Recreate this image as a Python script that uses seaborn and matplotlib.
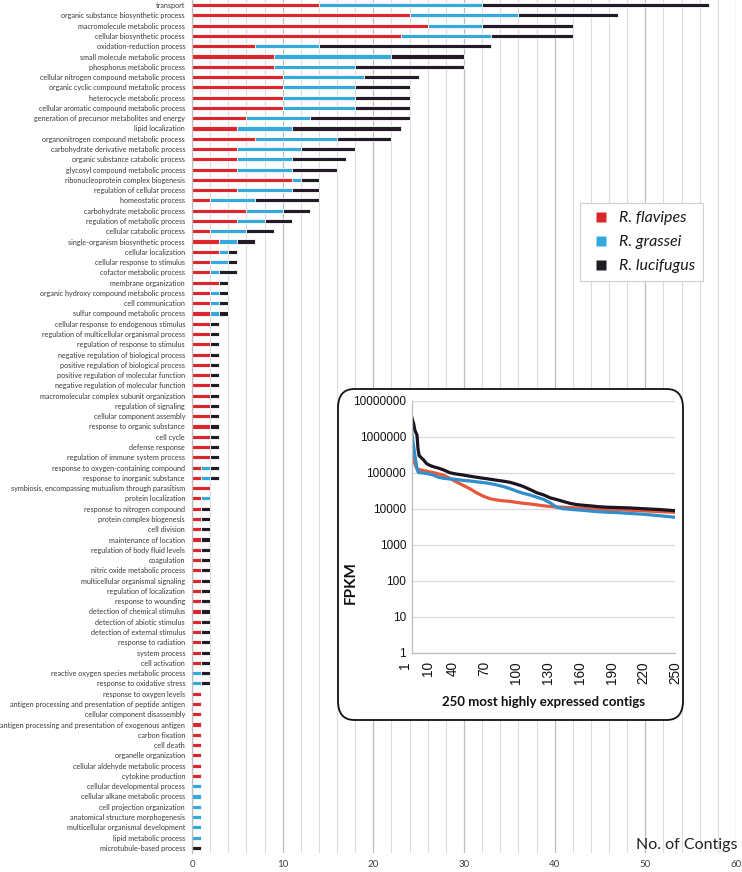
import numpy as np
import pandas as pd
import matplotlib
matplotlib.use("Agg")
import matplotlib.pyplot as plt
import seaborn as sns
from matplotlib.patches import FancyBboxPatch
from matplotlib.lines import Line2D
from matplotlib.ticker import MultipleLocator, FixedLocator, FuncFormatter, NullLocator

# ---------------- main bar chart data ----------------
categories = [
    "transport", "organic substance biosynthetic process", "macromolecule metabolic process",
    "cellular biosynthetic process", "oxidation-reduction process", "small molecule metabolic process",
    "phosphorus metabolic process", "cellular nitrogen compound metabolic process",
    "organic cyclic compound metabolic process", "heterocycle metabolic process",
    "cellular aromatic compound metabolic process", "generation of precursor metabolites and energy",
    "lipid localization", "organonitrogen compound metabolic process",
    "carbohydrate derivative metabolic process", "organic substance catabolic process",
    "glycosyl compound metabolic process", "ribonucleoprotein complex biogenesis",
    "regulation of cellular process", "homeostatic process", "carbohydrate metabolic process",
    "regulation of metabolic process", "cellular catabolic process",
    "single-organism biosynthetic process", "cellular localization", "cellular response to stimulus",
    "cofactor metabolic process", "membrane organization", "organic hydroxy compound metabolic process",
    "cell communication", "sulfur compound metabolic process",
    "cellular response to endogenous stimulus", "regulation of multicellular organismal process",
    "regulation of response to stimulus", "negative regulation of biological process",
    "positive regulation of biological process", "positive regulation of molecular function",
    "negative regulation of molecular function", "macromolecular complex subunit organization",
    "regulation of signaling", "cellular component assembly", "response to organic substance",
    "cell cycle", "defense response", "regulation of immune system process",
    "response to oxygen-containing compound", "response to inorganic substance",
    "symbiosis, encompassing mutualism through parasitism", "protein localization",
    "response to nitrogen compound", "protein complex biogenesis", "cell division",
    "maintenance of location", "regulation of body fluid levels", "coagulation",
    "nitric oxide metabolic process", "multicellular organismal signaling",
    "regulation of localization", "response to wounding", "detection of chemical stimulus",
    "detection of abiotic stimulus", "detection of external stimulus", "response to radiation",
    "system process", "cell activation", "reactive oxygen species metabolic process",
    "response to oxidative stress", "response to oxygen levels",
    "antigen processing and presentation of peptide antigen", "cellular component disassembly",
    "antigen processing and presentation of exogenous antigen", "carbon fixation", "cell death",
    "organelle organization", "cellular aldehyde metabolic process", "cytokine production",
    "cellular developmental process", "cellular alkane metabolic process",
    "cell projection organization", "anatomical structure morphogenesis",
    "multicellular organismal development", "lipid metabolic process", "microtubule-based process",
]

flavipes = [14, 24, 26, 23, 7, 9, 9, 10, 10, 10, 10, 6, 5, 7, 5, 5, 5, 11, 5, 2, 6, 5, 2, 3, 3, 2,
            2, 3, 2, 2, 2, 2, 2, 2, 2, 2, 2, 2, 2, 2, 2, 2, 2, 2, 2, 1, 1, 2, 1, 1, 1, 1, 1, 1, 1,
            1, 1, 1, 1, 1, 1, 1, 1, 1, 1, 0, 0, 1, 1, 1, 1, 1, 1, 1, 1, 1, 0, 0, 0, 0, 0, 0, 0]
grassei = [18, 12, 6, 10, 7, 13, 9, 9, 8, 8, 8, 7, 6, 9, 7, 6, 6, 1, 6, 5, 4, 3, 4, 2, 1, 2,
           1, 0, 1, 1, 1, 0, 0, 0, 0, 0, 0, 0, 0, 0, 0, 0, 0, 0, 0, 1, 1, 0, 1, 0, 0, 0, 0, 0, 0,
           0, 0, 0, 0, 0, 0, 0, 0, 0, 0, 1, 1, 0, 0, 0, 0, 0, 0, 0, 0, 0, 1, 1, 1, 1, 1, 1, 0]
lucifugus = [25, 11, 10, 9, 19, 8, 12, 6, 6, 6, 6, 11, 12, 6, 6, 6, 5, 2, 3, 7, 3, 3, 3, 2, 1, 1,
             2, 1, 1, 1, 1, 1, 1, 1, 1, 1, 1, 1, 1, 1, 1, 1, 1, 1, 1, 1, 1, 0, 0, 1, 1, 1, 1, 1, 1,
             1, 1, 1, 1, 1, 1, 1, 1, 1, 1, 1, 1, 0, 0, 0, 0, 0, 0, 0, 0, 0, 0, 0, 0, 0, 0, 0, 1]

species = ["R. flavipes", "R. grassei", "R. lucifugus"]
main_xticks = [0, 10, 20, 30, 40, 50, 60]

# ---------------- inset line chart data ----------------
ranks = [1, 2, 3, 4, 5, 6, 7, 8, 9, 12, 15, 18, 22, 26, 31, 37, 43, 50, 56, 62, 69, 75, 81, 88,
         94, 100, 106, 113, 119, 126, 132, 138, 144, 151, 157, 163, 170, 176, 185, 195, 207, 220,
         235, 250]
fpkm_flavipes = [4.3e5, 3.0e5, 2.2e5, 1.8e5, 1.5e5, 1.3e5, 1.25e5, 1.2e5, 1.2e5, 1.15e5, 1.1e5,
                 1.05e5, 1.0e5, 9.3e4, 8.5e4, 7.0e4, 5.6e4, 4.4e4, 3.6e4, 2.8e4, 2.2e4, 1.9e4,
                 1.75e4, 1.65e4, 1.6e4, 1.5e4, 1.42e4, 1.35e4, 1.28e4, 1.2e4, 1.15e4, 1.12e4,
                 1.1e4, 1.07e4, 1.05e4, 1.02e4, 1.0e4, 9.8e3, 9.5e3, 9.3e3, 9.1e3, 8.7e3, 8.3e3,
                 7.9e3]
fpkm_grassei = [1.4e6, 8.0e5, 5.0e5, 3.0e5, 2.0e5, 1.3e5, 1.05e5, 1.0e5, 1.0e5, 9.8e4, 9.5e4,
                9.1e4, 8.5e4, 7.5e4, 7.0e4, 6.7e4, 6.5e4, 6.1e4, 5.9e4, 5.6e4, 5.3e4, 5.0e4,
                4.6e4, 4.1e4, 3.6e4, 3.1e4, 2.7e4, 2.4e4, 2.1e4, 1.8e4, 1.45e4, 1.1e4, 1.0e4,
                9.6e3, 9.3e3, 9.0e3, 8.6e3, 8.3e3, 8.0e3, 7.8e3, 7.4e3, 7.0e3, 6.4e3, 5.8e3]
fpkm_lucifugus = [3.6e6, 2.8e6, 2.2e6, 1.5e6, 1.3e6, 1.1e6, 4.5e5, 3.0e5, 2.8e5, 2.3e5, 1.8e5,
                  1.6e5, 1.45e5, 1.35e5, 1.2e5, 1.0e5, 9.2e4, 8.6e4, 8.0e4, 7.5e4, 7.0e4, 6.6e4,
                  6.2e4, 5.8e4, 5.4e4, 4.8e4, 4.2e4, 3.4e4, 2.8e4, 2.4e4, 2.0e4, 1.8e4, 1.6e4,
                  1.4e4, 1.3e4, 1.25e4, 1.2e4, 1.15e4, 1.1e4, 1.08e4, 1.05e4, 1.0e4, 9.5e3, 8.8e3]
inset_xticks = [1, 10, 40, 70, 100, 130, 160, 190, 220, 250]
inset_yticks = [1, 10, 100, 1000, 10000, 100000, 1000000, 10000000]

# ---------------- styling ----------------
bar_colors = ["#d9272d", "#33a9e0", "#231c26"]
line_colors = ["#e8573c", "#2e8fcc", "#1c1420"]

sns.set_theme(style="white")
plt.rcParams["font.family"] = ["Lato", "DejaVu Sans"]

W, H = 742, 872
fig = plt.figure(figsize=(W / 100, H / 100), dpi=100)

ax = fig.add_axes([192 / W, 1 - 853 / H, (736 - 192) / W, 853 / H])

df = pd.DataFrame({"category": categories, "flavipes": flavipes,
                   "grassei": grassei, "lucifugus": lucifugus})
df["cum_red"] = df["flavipes"]
df["cum_blue"] = df["flavipes"] + df["grassei"]
df["cum_black"] = df["cum_blue"] + df["lucifugus"]

bw = 0.40
for col, c in [("cum_black", bar_colors[2]), ("cum_blue", bar_colors[1]), ("cum_red", bar_colors[0])]:
    sns.barplot(data=df, x=col, y="category", orient="h", color=c, saturation=1,
                width=bw, edgecolor="white", linewidth=0.6, errorbar=None, ax=ax)

ax.set_xlim(0, 60)
ax.set_xlabel("")
ax.set_ylabel("")
ax.xaxis.set_major_locator(FixedLocator(main_xticks))
ax.xaxis.set_minor_locator(MultipleLocator(2))
ax.grid(axis="x", which="major", color="#bdbdbd", lw=0.9)
ax.grid(axis="x", which="minor", color="#dcdcdc", lw=0.8)
ax.grid(axis="y", visible=False)
ax.set_axisbelow(True)
for s in ["top", "right", "bottom"]:
    ax.spines[s].set_visible(False)
ax.spines["left"].set_color("#bdbdbd")
ax.spines["left"].set_linewidth(0.9)
ax.tick_params(axis="both", which="both", length=0)
ax.tick_params(axis="y", labelsize=5.25, labelcolor="#3a3a3a", pad=5)
ax.tick_params(axis="x", labelsize=7, labelcolor="#404040", pad=5)

fig.text(737 / W, 1 - 845 / H, "No. of Contigs", ha="right", va="center",
         fontsize=11.5, color="#222222")

handles = [Line2D([], [], linestyle="none", marker="s", markersize=7.2,
                  markerfacecolor=c, markeredgecolor="none") for c in bar_colors]
leg = fig.legend(handles, species, loc="upper left", bbox_to_anchor=(580 / W, 1 - 203 / H),
                 borderaxespad=0, frameon=True, fancybox=False, framealpha=1,
                 edgecolor="#d0d0d0", prop={"style": "italic", "size": 11.5},
                 handlelength=1.6, handletextpad=0.35, labelspacing=0.62, borderpad=0.5)
leg.get_frame().set_linewidth(0.8)
for t in leg.get_texts():
    t.set_color("#1a1a1a")

# ---------------- inset ----------------
box = FancyBboxPatch((338 / W, 1 - 720 / H), (683 - 338) / W, (720 - 389) / H,
                     boxstyle="round,pad=0,rounding_size=0.022", transform=fig.transFigure,
                     facecolor="white", edgecolor="#111111", lw=1.3, zorder=1)
fig.add_artist(box)

axin = fig.add_axes([411.7 / W, 1 - 652.7 / H, 263.3 / W, 252 / H])
axin.set_zorder(2)
axin.patch.set_alpha(0)

for vals, c in [(fpkm_flavipes, line_colors[0]), (fpkm_grassei, line_colors[1]),
                (fpkm_lucifugus, line_colors[2])]:
    sns.lineplot(x=ranks, y=vals, color=c, lw=2.3, ax=axin)

axin.set_yscale("log")
axin.set_ylim(1, 1e7)
axin.set_xlim(1, 250)
axin.yaxis.set_major_locator(FixedLocator(inset_yticks))
axin.yaxis.set_minor_locator(NullLocator())
axin.yaxis.set_major_formatter(FuncFormatter(lambda v, p: f"{int(round(v))}"))
axin.xaxis.set_major_locator(FixedLocator(inset_xticks))
axin.xaxis.set_minor_locator(MultipleLocator(10))
axin.grid(axis="y", which="major", color="#d9d9d9", lw=0.9)
axin.grid(axis="x", visible=False)
for s in ["top", "right"]:
    axin.spines[s].set_visible(False)
for s in ["left", "bottom"]:
    axin.spines[s].set_color("#bdbdbd")
    axin.spines[s].set_linewidth(0.9)
axin.tick_params(axis="x", which="both", direction="out", length=3, color="#bdbdbd", pad=3)
axin.tick_params(axis="y", which="both", length=0, pad=4)
for lab in axin.get_yticklabels():
    lab.set_family(["Liberation Sans", "DejaVu Sans"])
    lab.set_fontsize(8.5)
    lab.set_color("#111111")
for i, lab in enumerate(axin.get_xticklabels()):
    lab.set_family(["Liberation Sans", "DejaVu Sans"])
    lab.set_fontsize(9.8)
    lab.set_rotation(90)
    lab.set_color("#111111")
    if i == 0:
        lab.set_horizontalalignment("right")
    elif i == 1:
        lab.set_horizontalalignment("left")
axin.set_ylabel("FPKM", fontweight="bold", fontsize=11, color="#111111")
axin.yaxis.set_label_coords(-0.205, 0.278)
axin.set_xlabel("250 most highly expressed contigs", fontweight="bold", fontsize=9.5,
                color="#111111", labelpad=9)

fig.savefig("out.png", dpi=100)
